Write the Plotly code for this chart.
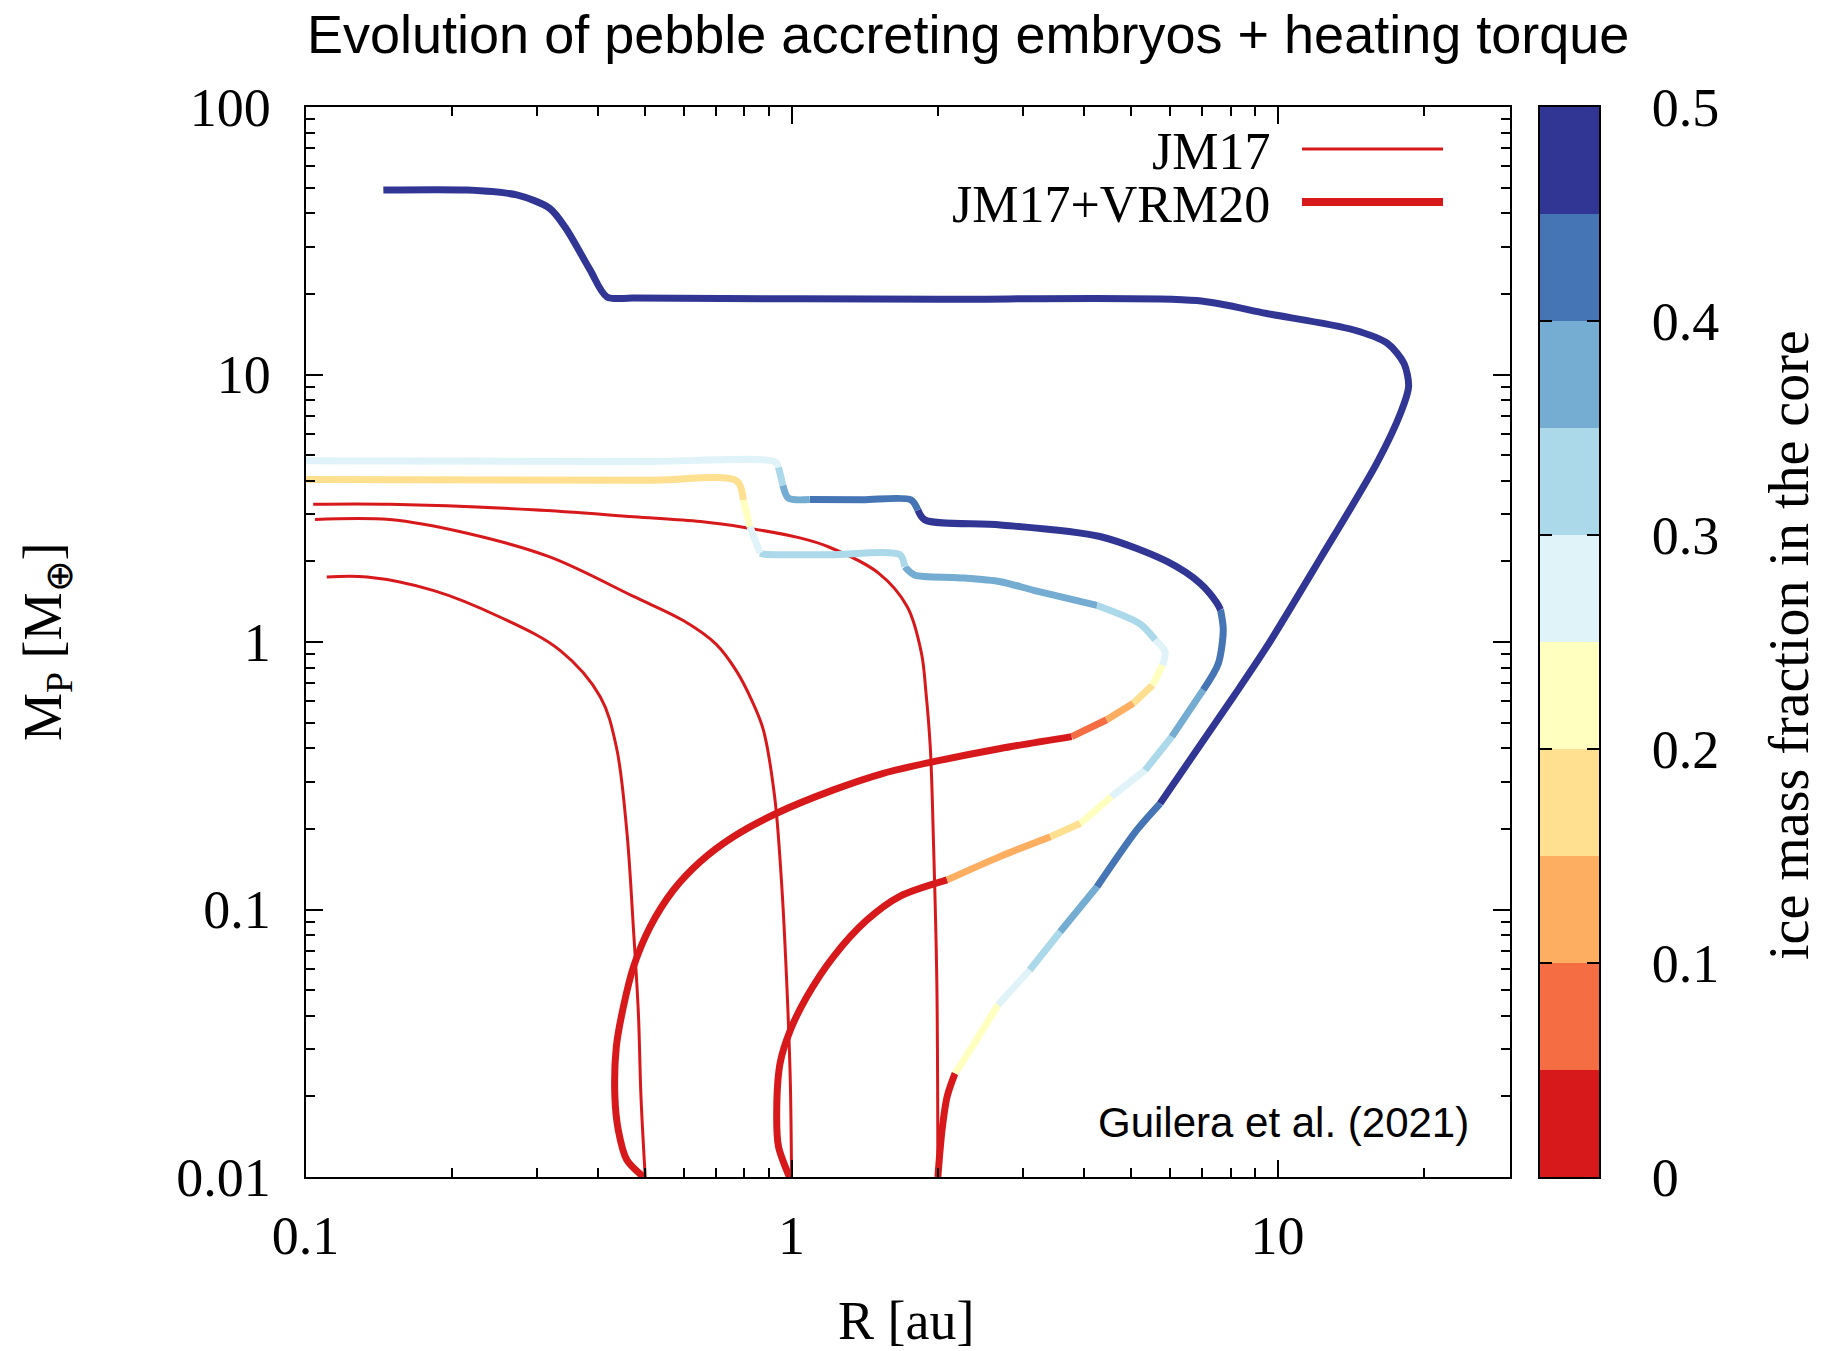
import plotly.graph_objects as go

W, H = 1821, 1351

# ---------------- data ----------------
# JM17 tracks (thin red), R [au] vs M_P [M_earth]
jm17_a_r = [0.1106, 0.134, 0.183, 0.251, 0.334, 0.404, 0.436, 0.458, 0.473, 0.484, 0.490, 0.500]
jm17_a_m = [1.75, 1.75, 1.56, 1.24, 0.93, 0.624, 0.406, 0.198, 0.0837, 0.041, 0.020, 0.010]

jm17_b_r = [0.1046, 0.149, 0.215, 0.318, 0.473, 0.600, 0.700, 0.770, 0.830, 0.875, 0.923, 0.953, 0.977, 0.994, 1.000]
jm17_b_m = [2.87, 2.87, 2.55, 2.08, 1.48, 1.20, 0.98, 0.78, 0.60, 0.469, 0.264, 0.129, 0.0544, 0.023, 0.010]

jm17_c_r = [0.1037, 0.149, 0.294, 0.473, 0.650, 0.800, 1.04, 1.19, 1.51, 1.73, 1.85, 1.89, 1.93, 1.96, 1.99, 2.00]
jm17_c_m = [3.27, 3.27, 3.12, 2.94, 2.82, 2.68, 2.45, 2.27, 1.81, 1.355, 0.91, 0.65, 0.40, 0.172, 0.054, 0.010]

# JM17+VRM20 tracks (thick), coloured by ice mass fraction in the core
vrm_a_r = [0.496, 0.458, 0.440, 0.433, 0.436, 0.451, 0.473, 0.512, 0.571, 0.649, 0.759, 0.932,
           1.22, 1.545, 1.96, 2.69, 3.77, 4.45, 5.05, 5.53, 5.80, 5.87, 5.60, 5.21, 4.25, 3.15,
           2.69, 2.20, 1.79, 1.71, 1.67, 1.20, 0.88, 0.861, 0.821, 0.796, 0.771, 0.50, 0.10]
vrm_a_m = [0.0100, 0.0116, 0.0150, 0.0200, 0.0307, 0.0434, 0.0611, 0.0863, 0.118, 0.151, 0.187, 0.229,
           0.280, 0.323, 0.357, 0.400, 0.443, 0.512, 0.590, 0.690, 0.820, 0.920, 1.02, 1.17, 1.37, 1.56,
           1.68, 1.74, 1.78, 1.91, 2.12, 2.12, 2.13, 2.15, 2.70, 3.40, 4.00, 4.02, 4.05]
vrm_a_ice = [0.02, 0.02, 0.02, 0.02, 0.02, 0.02, 0.02, 0.02, 0.02, 0.02, 0.02, 0.02,
             0.02, 0.02, 0.02, 0.02, 0.07, 0.12, 0.17, 0.22, 0.27, 0.27, 0.32, 0.32, 0.37, 0.37,
             0.37, 0.37, 0.37, 0.32, 0.32, 0.32, 0.32, 0.27, 0.22, 0.17, 0.17, 0.17, 0.17]

vrm_b_r = [0.99, 0.94, 0.932, 0.947, 0.995, 1.075, 1.22, 1.43, 1.67, 2.09, 2.69, 3.41, 3.93, 4.55,
           5.34, 6.06, 7.03, 7.55, 7.73, 7.63, 7.50, 6.92, 5.92, 4.31, 2.69, 1.88, 1.82, 1.76, 1.40,
           1.09, 0.985, 0.96, 0.94, 0.925, 0.50, 0.10]
vrm_b_m = [0.0100, 0.0130, 0.0173, 0.0266, 0.0355, 0.0472, 0.0667, 0.0914, 0.112, 0.129, 0.158, 0.187, 0.210, 0.264,
           0.332, 0.443, 0.662, 0.83, 1.11, 1.32, 1.40, 1.66, 2.00, 2.48, 2.74, 2.86, 3.11, 3.40, 3.40,
           3.41, 3.45, 3.85, 4.50, 4.72, 4.73, 4.76]
vrm_b_ice = [0.02, 0.02, 0.02, 0.02, 0.02, 0.02, 0.02, 0.02, 0.02, 0.12, 0.12, 0.17, 0.22, 0.27,
             0.32, 0.37, 0.42, 0.42, 0.42, 0.47, 0.47, 0.47, 0.47, 0.47, 0.47, 0.47, 0.42, 0.42, 0.42,
             0.37, 0.37, 0.32, 0.27, 0.27, 0.27, 0.27]

vrm_c_r = [2.00, 2.04, 2.09, 2.17, 2.40, 2.66, 3.09, 3.57, 4.25, 5.13, 5.73, 8.11, 9.50, 12.2,
           16.0, 17.9, 18.6, 18.2, 16.8, 14.3, 9.5, 6.82, 2.00, 1.04, 0.473, 0.417, 0.385, 0.345,
           0.318, 0.272, 0.2147, 0.1446]
vrm_c_m = [0.0100, 0.0150, 0.0200, 0.0244, 0.0325, 0.0440, 0.0594, 0.0826, 0.1216, 0.198, 0.249, 0.624, 0.96, 2.03,
           4.66, 7.16, 9.0, 11.0, 13.1, 14.7, 16.9, 18.9, 19.1, 19.2, 19.3, 19.5, 24.6, 34.7,
           41.8, 46.9, 48.9, 48.9]
vrm_c_ice = [0.02, 0.02, 0.02, 0.22, 0.22, 0.27, 0.32, 0.37, 0.42, 0.42, 0.47, 0.47, 0.47, 0.47,
             0.47, 0.47, 0.47, 0.47, 0.47, 0.47, 0.47, 0.47, 0.47, 0.47, 0.47, 0.47, 0.47, 0.47,
             0.47, 0.47, 0.47, 0.47]

# ice mass fraction classes, 0.05 wide from 0 to 0.5
ice_edges = [0.0, 0.05, 0.10, 0.15, 0.20, 0.25, 0.30, 0.35, 0.40, 0.45, 0.50]
ice_colors = ['#d7191c', '#f46d43', '#fdae61', '#fee090', '#ffffbf',
              '#e0f3f8', '#abd9e9', '#74add1', '#4575b4', '#313695']

x_ticks = [0.1, 1, 10]
x_ticktext = ['0.1', '1', '10']
y_ticks = [0.01, 0.1, 1, 10, 100]
y_ticktext = ['0.01', '0.1', '1', '10', '100']
cb_ticks = [0.0, 0.1, 0.2, 0.3, 0.4, 0.5]
cb_ticktext = ['0', '0.1', '0.2', '0.3', '0.4', '0.5']

RED = '#d7191c'
SERIF = 'Liberation Serif, Times New Roman, serif'
SANS = 'Liberation Sans, Arial, sans-serif'


def px(x):
    return x / W


def py(y):
    return 1 - y / H


def band(v):
    return max(0, min(int(v / 0.05 + 1e-9), len(ice_colors) - 1))


fig = go.Figure()

# thin JM17 tracks
for r, m in [(jm17_a_r, jm17_a_m), (jm17_b_r, jm17_b_m), (jm17_c_r, jm17_c_m)]:
    fig.add_trace(go.Scatter(x=r, y=m, mode='lines',
                             line=dict(color=RED, width=3, shape='spline', smoothing=1.0),
                             hoverinfo='skip', showlegend=False))


def add_track(r, m, ice, width):
    """Split a track into runs of equal ice class and draw each run in its colour."""
    n = len(r)
    start = 0
    while start < n - 1:
        b = band(ice[start])
        end = start + 1
        while end < n - 1 and band(ice[end]) == b:
            end += 1
        fig.add_trace(go.Scatter(x=r[start:end + 1], y=m[start:end + 1], mode='lines',
                                 line=dict(color=ice_colors[b], width=width,
                                           shape='spline', smoothing=0.8),
                                 hoverinfo='skip', showlegend=False))
        start = end


add_track(vrm_a_r, vrm_a_m, vrm_a_ice, 7)
add_track(vrm_b_r, vrm_b_m, vrm_b_ice, 7)
add_track(vrm_c_r, vrm_c_m, vrm_c_ice, 7)

# colour bar as a heatmap on its own axes
centers = [(ice_edges[i] + ice_edges[i + 1]) / 2 for i in range(len(ice_colors))]
n_cls = len(ice_colors)
scale = [[i / (n_cls - 1), c] for i, c in enumerate(ice_colors)]
fig.add_trace(go.Heatmap(x=[0], y=centers, z=[[i] for i in range(n_cls)],
                         zmin=0, zmax=n_cls - 1, colorscale=scale, showscale=False,
                         hoverinfo='skip', xaxis='x2', yaxis='y2'))

# ---------------- axes ----------------
x_minor = [k * 10 ** e for e in (-1, 0, 1) for k in range(2, 10) if k * 10 ** e <= 30]
y_minor = [k * 10 ** e for e in (-2, -1, 0, 1) for k in range(2, 10)]

plot_l, plot_r, plot_t, plot_b = 305.5, 1509.5, 107, 1177
cb_l, cb_r = 1540, 1599

axis_common = dict(showgrid=False, zeroline=False, showline=True, linecolor='black',
                   linewidth=2, mirror='allticks', ticks='inside', ticklen=17, tickwidth=2,
                   tickcolor='black', tickfont=dict(family=SERIF, size=54, color='black'))

fig.update_layout(
    width=W, height=H, autosize=False,
    margin=dict(l=0, r=0, t=0, b=0, pad=0, autoexpand=False),
    paper_bgcolor='white', plot_bgcolor='white',
    showlegend=False,
    xaxis=dict(type='log', range=[-1, 1.4771], domain=[px(plot_l), px(plot_r)],
               tickmode='array', tickvals=x_ticks, ticktext=x_ticktext,
               ticklabelstandoff=10, automargin=False,
               minor=dict(tickmode='array', tickvals=x_minor, ticks='inside', ticklen=9,
                          tickwidth=2, tickcolor='black', showgrid=False),
               **axis_common),
    yaxis=dict(type='log', range=[-2, 2], domain=[py(plot_b), py(plot_t)],
               tickmode='array', tickvals=y_ticks, ticktext=y_ticktext,
               ticklabelstandoff=22, automargin=False,
               minor=dict(tickmode='array', tickvals=y_minor, ticks='inside', ticklen=9,
                          tickwidth=2, tickcolor='black', showgrid=False),
               **axis_common),
    xaxis2=dict(domain=[px(cb_l), px(cb_r)], range=[-0.5, 0.5], anchor='y2',
                showgrid=False, zeroline=False, showticklabels=False, ticks='',
                showline=True, linecolor='black', linewidth=2, mirror=True, automargin=False),
    yaxis2=dict(domain=[py(plot_b), py(plot_t)], range=[0, 0.5], anchor='x2', side='right',
                tickmode='array', tickvals=cb_ticks, ticktext=cb_ticktext,
                showgrid=False, zeroline=False, showline=True, linecolor='black',
                linewidth=2, mirror='ticks', ticks='inside', ticklen=12, tickwidth=2,
                tickcolor='black', ticklabelstandoff=40, automargin=False,
                tickfont=dict(family=SERIF, size=54, color='black')),
)

# ---------------- legend keys ----------------
fig.add_shape(type='line', xref='paper', yref='paper',
              x0=px(1302), x1=px(1443), y0=py(149), y1=py(149),
              line=dict(color=RED, width=3))
fig.add_shape(type='line', xref='paper', yref='paper',
              x0=px(1302), x1=px(1443), y0=py(202), y1=py(202),
              line=dict(color=RED, width=8))

annotations = [
    dict(text='JM17', x=px(1272), y=py(151), xanchor='right', yanchor='middle',
         font=dict(family=SERIF, size=52, color='black')),
    dict(text='JM17+VRM20', x=px(1272), y=py(204), xanchor='right', yanchor='middle',
         font=dict(family=SERIF, size=52, color='black')),
    dict(text='Guilera et al. (2021)', x=px(1471), y=py(1122), xanchor='right', yanchor='middle',
         font=dict(family=SANS, size=42, color='black')),
    dict(text='Evolution of pebble accreting embryos + heating torque',
         x=px(968), y=py(34), xanchor='center', yanchor='middle',
         font=dict(family=SANS, size=54, color='black')),
    dict(text='R [au]', x=px(906), y=py(1321), xanchor='center', yanchor='middle',
         font=dict(family=SERIF, size=54, color='black')),
    dict(text='M<sub>P</sub> [M<sub>⊕</sub>]', x=px(46), y=py(642), xanchor='center',
         yanchor='middle', textangle=-90,
         font=dict(family=SERIF, size=54, color='black')),
    dict(text='ice mass fraction in the core', x=px(1789), y=py(645), xanchor='center',
         yanchor='middle', textangle=-90,
         font=dict(family=SERIF, size=56, color='black')),
]
for a in annotations:
    a.update(xref='paper', yref='paper', showarrow=False)
fig.update_layout(annotations=annotations)

fig.write_html('out.html')
